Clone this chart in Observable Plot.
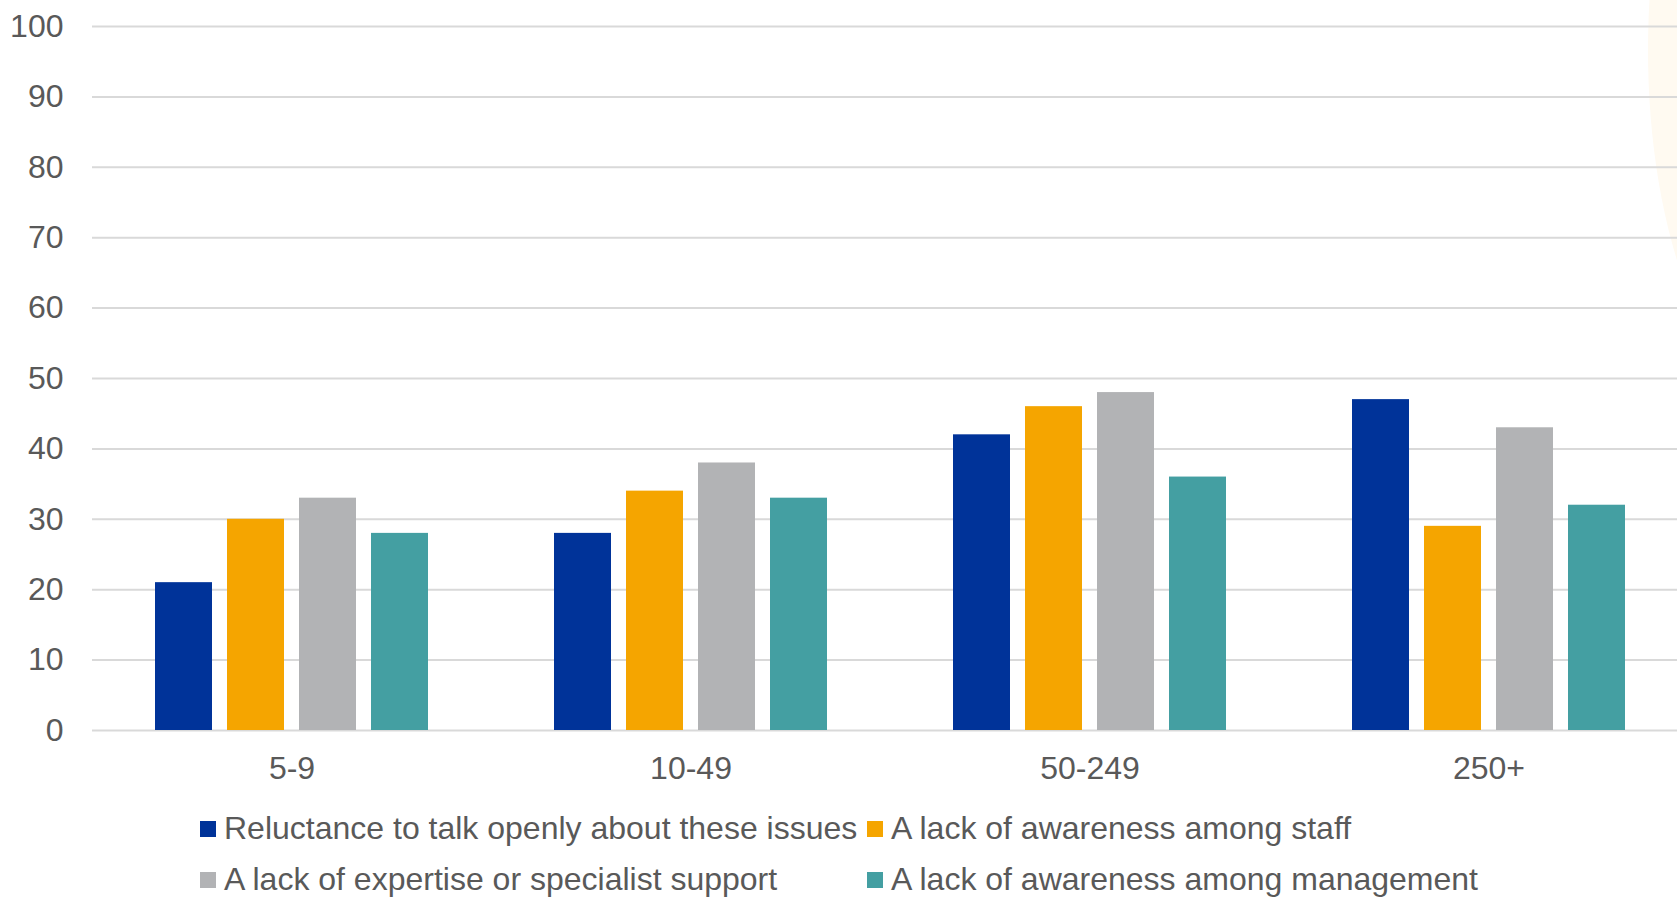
<!DOCTYPE html>
<html>
<head>
<meta charset="utf-8">
<script src="https://cdn.jsdelivr.net/npm/d3@7"></script>
<script src="https://cdn.jsdelivr.net/npm/@observablehq/plot@0.6"></script>
<style>
  html, body { margin: 0; padding: 0; background: #ffffff; }
  body { width: 1677px; height: 897px; position: relative; overflow: hidden;
         font-family: "Liberation Sans", Arial, sans-serif; }
  #deco { position: absolute; left: 1648px; top: -297px; width: 284px; height: 694px;
          border-radius: 50%; background: #fffaf1; z-index: 0; }
  #chart { position: relative; z-index: 1; }
  #chart svg { background: transparent; display: block; overflow: hidden; }
  #legend { position: relative; z-index: 1; display: grid;
            grid-template-columns: 667px auto; padding-left: 200px; padding-top: 11px;
            font-size: 32px; color: #595959; line-height: 51px; }
  .item { display: flex; align-items: center; white-space: nowrap; }
  .sw { width: 16px; height: 16px; margin-right: 8px; flex: none; }
</style>
</head>
<body>
<div id="deco"></div>
<div id="chart"></div>
<div id="legend"></div>
<script>
const groups = ["5-9", "10-49", "50-249", "250+"];
const seriesNames = [
  "Reluctance to talk openly about these issues",
  "A lack of awareness among staff",
  "A lack of expertise or specialist support",
  "A lack of awareness among management"
];
const seriesColors = ["#003399", "#F5A500", "#B2B3B5", "#449FA2"];
const reluctance = [21, 28, 42, 47];
const awarenessStaff = [30, 34, 46, 29];
const expertise = [33, 38, 48, 43];
const awarenessManagement = [28, 33, 36, 32];
const yTicks = [0, 10, 20, 30, 40, 50, 60, 70, 80, 90, 100];

const seriesValues = [reluctance, awarenessStaff, expertise, awarenessManagement];
const data = [];
groups.forEach((g, gi) => {
  seriesNames.forEach((s, si) => {
    data.push({group: g, series: s, value: seriesValues[si][gi]});
  });
});

const chart = Plot.plot({
  width: 1677,
  height: 792,
  marginLeft: 92,
  marginRight: -11,
  marginTop: 26,
  marginBottom: 62,
  style: {fontFamily: "'Liberation Sans', Arial, sans-serif", background: "transparent"},
  fx: {domain: groups, padding: 0},
  x: {domain: seriesNames, axis: null, paddingInner: 0.21, paddingOuter: 0.857},
  y: {domain: [0, 100]},
  color: {domain: seriesNames, range: seriesColors},
  marks: [
    Plot.gridY(yTicks, {stroke: "#d9d9d9", strokeOpacity: 1, strokeWidth: 2}),
    Plot.barY(data, {fx: "group", x: "series", y: "value", fill: "series"}),
    Plot.axisY(yTicks, {tickSize: 0, tickPadding: 29, fontSize: 32, fill: "#595959", label: null}),
    Plot.axisFx({anchor: "bottom", tickSize: 0, tickPadding: 26, fontSize: 32, fill: "#595959", label: null})
  ]
});
document.getElementById("chart").appendChild(chart);

const legend = document.getElementById("legend");
seriesNames.forEach((s, i) => {
  const item = document.createElement("div");
  item.className = "item";
  const sw = document.createElement("span");
  sw.className = "sw";
  sw.style.background = seriesColors[i];
  const t = document.createElement("span");
  t.textContent = s;
  item.appendChild(sw);
  item.appendChild(t);
  legend.appendChild(item);
});
</script>
</body>
</html>
